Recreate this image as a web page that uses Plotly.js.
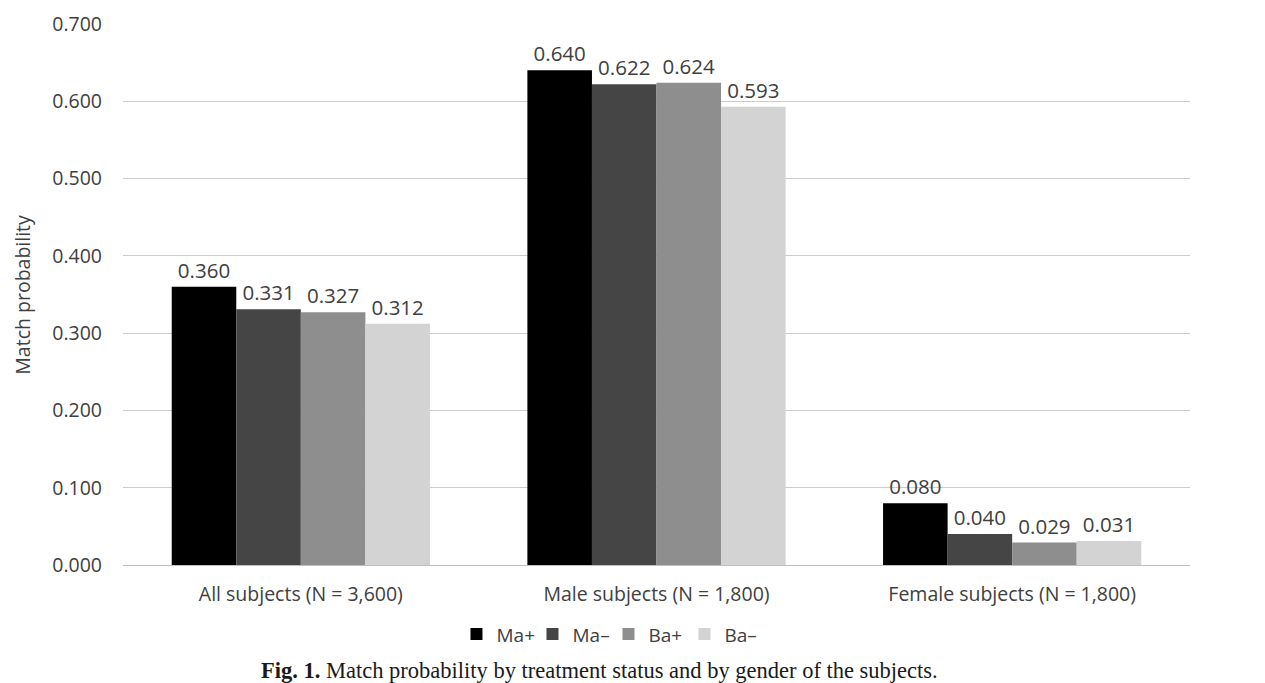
<!DOCTYPE html>
<html>
<head>
<meta charset="utf-8">
<script src="https://cdn.plot.ly/plotly-3.0.1.min.js"></script>
<style>
  html, body { margin: 0; padding: 0; background: #fff; }
  #plot-container { width: 1265px; height: 683px; }
</style>
</head>
<body>
<div id="plot-container"></div>
<script>
const categories = ['All subjects (N = 3,600)', 'Male subjects (N = 1,800)', 'Female subjects (N = 1,800)'];
const seriesNames = ['Ma+', 'Ma\u2013', 'Ba+', 'Ba\u2013'];
const maPlus = [0.360, 0.640, 0.080];
const maMinus = [0.331, 0.622, 0.040];
const baPlus = [0.327, 0.624, 0.029];
const baMinus = [0.312, 0.593, 0.031];
const yTicks = [0, 0.1, 0.2, 0.3, 0.4, 0.5, 0.6, 0.7];

const colors = ['#000000', '#454545', '#8e8e8e', '#d3d3d3'];
const allSeries = [maPlus, maMinus, baPlus, baMinus];

let traces = [];
allSeries.forEach((vals, i) => {
    traces.push({
        type: 'bar',
        name: seriesNames[i],
        x: categories,
        y: vals,
        marker: { color: colors[i] },
        text: vals.map(v => v.toFixed(3)),
        textposition: 'outside',
        cliponaxis: false,
        textfont: { family: 'Open Sans, sans-serif', size: 20.5, color: '#404040' }
    });
});

const layout = {
    width: 1265,
    height: 683,
    margin: { l: 123, r: 75, t: 24, b: 118 },
    paper_bgcolor: '#ffffff',
    plot_bgcolor: '#ffffff',
    barmode: 'group',
    bargap: 0.274,
    bargroupgap: 0,
    font: { family: 'Open Sans, sans-serif', color: '#595959' },
    xaxis: {
        tickfont: { size: 19.5, color: '#404040' },
        showline: true,
        linecolor: '#bfbfbf',
        ticks: '',
        ticklabelstandoff: 12,
        fixedrange: true
    },
    yaxis: {
        range: [0, 0.7],
        tickvals: yTicks,
        tickformat: '.3f',
        tickfont: { size: 19.5, color: '#404040' },
        gridcolor: '#cccccc',
        zeroline: false,
        ticklen: 0,
        ticklabelstandoff: 20
    },
    legend: {
        orientation: 'h',
        x: 0.455,
        xanchor: 'center',
        y: -0.128,
        yanchor: 'middle',
        font: { size: 19, color: '#404040' },
        itemwidth: 30,
        entrywidth: 31,
        traceorder: 'normal'
    },
    showlegend: true,
    annotations: [{
        // y axis title, placed by hand to sit close to the left edge
        xref: 'paper', yref: 'paper',
        x: -0.0945, y: 0.5,
        xanchor: 'center', yanchor: 'middle',
        textangle: -90,
        showarrow: false,
        text: 'Match probability',
        font: { size: 19.5, color: '#404040' }
    }, {
        xref: 'paper', yref: 'paper',
        x: 0.447, y: -0.195,
        xanchor: 'center', yanchor: 'middle',
        showarrow: false,
        text: '<b>Fig. 1.</b> Match probability by treatment status and by gender of the subjects.',
        font: { family: 'Liberation Serif, serif', size: 22.5, color: '#1a1a1a' }
    }]
};

Plotly.newPlot('plot-container', traces, layout, { displayModeBar: false });
</script>
</body>
</html>
